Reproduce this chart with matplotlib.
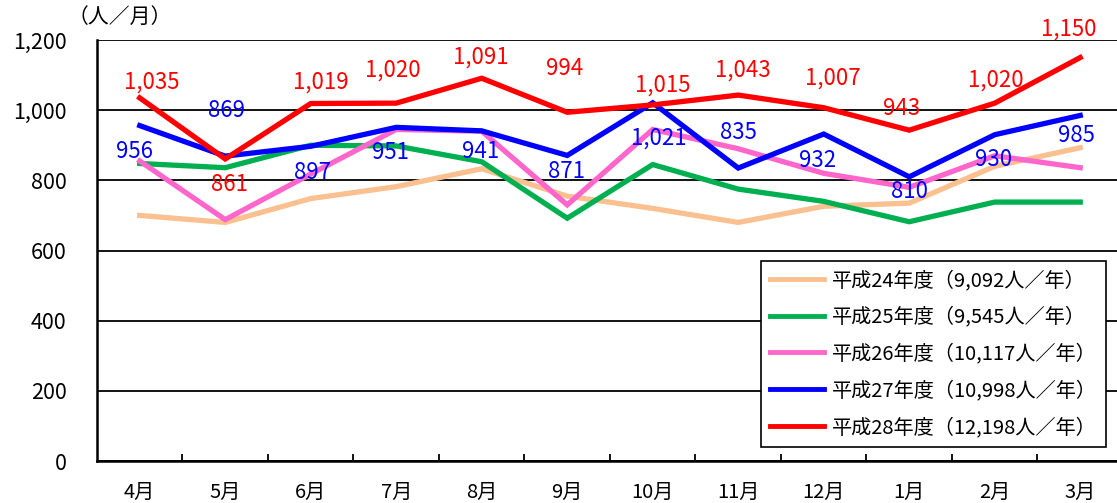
import numpy as np
import matplotlib.pyplot as plt

plt.rcParams['font.family'] = ['Noto Sans CJK JP', 'DejaVu Sans']

months = ['4月', '5月', '6月', '7月', '8月', '9月', '10月', '11月', '12月', '1月', '2月', '3月']

h24 = [700, 680, 748, 782, 833, 755, 720, 680, 726, 735, 840, 893]
h25 = [848, 836, 900, 898, 853, 692, 845, 775, 740, 682, 738, 738]
h26 = [855, 688, 818, 945, 940, 730, 945, 890, 820, 780, 870, 836]
h27 = [956, 869, 897, 951, 941, 871, 1021, 835, 932, 810, 930, 985]
h28 = [1035, 861, 1019, 1020, 1091, 994, 1015, 1043, 1007, 943, 1020, 1150]

legend_labels = ['平成24年度（9,092人／年）', '平成25年度（9,545人／年）',
                 '平成26年度（10,117人／年）', '平成27年度（10,998人／年）',
                 '平成28年度（12,198人／年）']
colors = ['#FAC090', '#00B050', '#FF66CC', '#0000FF', '#FF0000']

# label offsets in pixels (dx, dy) from the data point
off27 = [(-5, -26), (1, 46), (2, -26), (-6, -25), (-1, -21), (-1, -16),
         (6, -35), (0, 36), (-6, -26), (0, -15), (-1, -25), (-4, -20)]
off28 = [(12, 16), (4, -26), (10, 21), (-3, 33), (-1, 21), (-3, 44),
         (10, 20), (5, 25), (9, 30), (-8, 22), (1, 23), (-11, 28)]

fig = plt.figure(figsize=(11.17, 5.03), dpi=100)
ax = fig.add_axes([97 / 1117, 42 / 503, 1020 / 1117, 421 / 503])

x = np.arange(len(months))
series = [h24, h25, h26, h27, h28]
for vals, c, lab in zip(series, colors, legend_labels):
    ax.plot(x, vals, color=c, lw=3.8, label=lab, solid_joinstyle='miter')

px = 0.72  # pixel -> points
for i, v in enumerate(h27):
    dx, dy = off27[i]
    ax.annotate(f'{v:,}', (x[i], v), xytext=(dx * px, dy * px), textcoords='offset points',
                ha='center', va='center', color='#0000FF', fontsize=16)
for i, v in enumerate(h28):
    dx, dy = off28[i]
    ax.annotate(f'{v:,}', (x[i], v), xytext=(dx * px, dy * px), textcoords='offset points',
                ha='center', va='center', color='#FF0000', fontsize=16)

ax.set_xlim(-0.5, 11.43)
ax.set_ylim(0, 1200)
ax.set_yticks(np.arange(0, 1201, 200))
ax.set_yticklabels([f'{v:,}' for v in range(0, 1201, 200)], fontsize=15.5)
ax.yaxis.grid(True, color='black', lw=1.3)
ax.set_axisbelow(True)

ax.set_xticks(x)
ax.set_xticklabels(months, fontsize=14.5)
ax.set_xticks(np.arange(0.5, 11, 1), minor=True)
ax.tick_params(axis='x', which='major', length=0, pad=15)
ax.tick_params(axis='x', which='minor', direction='in', length=5, width=1.3)
ax.tick_params(axis='y', length=0, pad=22)

for s in ['top', 'right']:
    ax.spines[s].set_visible(False)
for s in ['left', 'bottom']:
    ax.spines[s].set_linewidth(1.8)

fig.text(120 / 1117, 1 - 17 / 503, '（人／月）', ha='center', va='center', fontsize=15)

leg = ax.legend(loc='upper left', bbox_to_anchor=(761 / 1117, 1 - 261 / 503),
                bbox_transform=fig.transFigure, fontsize=14.5, frameon=True,
                fancybox=False, edgecolor='black', framealpha=1, handlelength=2.7,
                handletextpad=0.35, labelspacing=0.78, borderpad=0.45,
                borderaxespad=0)
leg.get_frame().set_linewidth(1.2)
for line in leg.get_lines():
    line.set_linewidth(3.5)

fig.savefig('out.png', dpi=100)
